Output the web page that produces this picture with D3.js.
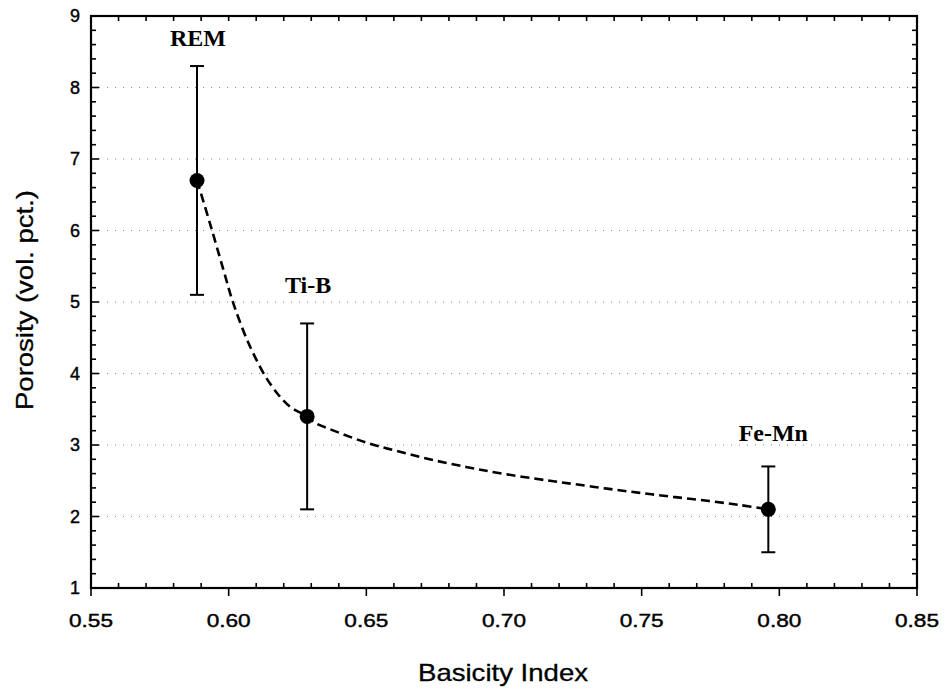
<!DOCTYPE html>
<meta charset="utf-8">
<style>
  body { margin: 0; background: #fff; }
  .tick-label { font-family: "Liberation Sans", Arial, sans-serif; font-size: 18px; fill: #000; stroke: #000; stroke-width: 0.4px; }
  .axis-title { font-family: "Liberation Sans", Arial, sans-serif; font-size: 24px; fill: #000; stroke: #000; stroke-width: 0.3px; }
  .series-label { font-family: "Liberation Serif", "Times New Roman", serif; font-size: 24px; font-weight: bold; fill: #000; }
  .grid line { stroke: #888; stroke-width: 1; stroke-dasharray: 1,7; }
  .tk { stroke: #000; stroke-width: 1.6px; }
</style>
<title>Porosity vs Basicity Index</title>
<script src="https://d3js.org/d3.v7.min.js"></script>
<body>
<div id="chart"></div>
<script>
    // measured points with error bars
    var names = ["REM", "Ti-B", "Fe-Mn"];
    var basicity = [0.5885, 0.6285, 0.796];
    var porosity = [6.7, 3.4, 2.1];
    var errLow = [5.1, 2.1, 1.5];
    var errHigh = [8.3, 4.7, 2.7];

    // dashed fitted curve
    var curveX = [0.5885, 0.5932, 0.5981, 0.6017, 0.6078, 0.6150, 0.6223, 0.6285, 0.6314, 0.6379,
                  0.6503, 0.6622, 0.6742, 0.6866, 0.6986, 0.7156, 0.7251, 0.7374, 0.7494, 0.7614,
                  0.7738, 0.7857, 0.796];
    var curveY = [6.70, 6.10, 5.45, 4.98, 4.375, 3.86, 3.535, 3.40, 3.31, 3.205,
                  3.03, 2.905, 2.79, 2.69, 2.605, 2.505, 2.455, 2.39, 2.33, 2.275,
                  2.22, 2.16, 2.10];

    var xTicks = [0.55, 0.60, 0.65, 0.70, 0.75, 0.80, 0.85];
    var yTicks = [1, 2, 3, 4, 5, 6, 7, 8, 9];

    var canvasWidth = 946, canvasHeight = 693;
    var margin = {top: 16, right: 29, bottom: 105, left: 91};
    var width = canvasWidth - margin.left - margin.right,
        height = canvasHeight - margin.top - margin.bottom;

    var svg = d3.select("#chart").append("svg")
        .attr("width", canvasWidth)
        .attr("height", canvasHeight);
    var g = svg.append("g").attr("transform", "translate(" + margin.left + "," + margin.top + ")");

    var x = d3.scaleLinear().domain([0.55, 0.85]).range([0, width]);
    var y = d3.scaleLinear().domain([1, 9]).range([height, 0]);

    // horizontal dotted grid
    g.append("g").attr("class", "grid")
        .selectAll("line")
        .data(yTicks.slice(1, -1))
        .enter().append("line")
        .attr("x1", 0).attr("x2", width)
        .attr("y1", d => y(d)).attr("y2", d => y(d));

    var minorX = d3.range(56, 85).map(d => d / 100).filter(d => Math.round(d * 100) % 5 != 0);
    var minorY = d3.range(6, 45).map(d => d / 5).filter(d => Math.round(d * 5) % 5 != 0);

    var ticks = g.append("g");
    // bottom: majors point out, minors point in
    ticks.selectAll(".bx").data(xTicks).enter().append("line").attr("class", "tk")
        .attr("x1", d => x(d)).attr("x2", d => x(d)).attr("y1", height).attr("y2", height + 8);
    ticks.selectAll(".bm").data(minorX).enter().append("line").attr("class", "tk")
        .attr("x1", d => x(d)).attr("x2", d => x(d)).attr("y1", height).attr("y2", height - 5);
    // top mirror
    ticks.selectAll(".tx").data(minorX.concat(xTicks)).enter().append("line").attr("class", "tk")
        .attr("x1", d => x(d)).attr("x2", d => x(d)).attr("y1", 0).attr("y2", 5);
    // left: ticks inward
    ticks.selectAll(".ly").data(yTicks).enter().append("line").attr("class", "tk")
        .attr("x1", 0).attr("x2", 8).attr("y1", d => y(d)).attr("y2", d => y(d));
    ticks.selectAll(".lm").data(minorY).enter().append("line").attr("class", "tk")
        .attr("x1", 0).attr("x2", 5).attr("y1", d => y(d)).attr("y2", d => y(d));
    // right mirror
    ticks.selectAll(".ry").data(minorY.concat(yTicks)).enter().append("line").attr("class", "tk")
        .attr("x1", width).attr("x2", width - 5).attr("y1", d => y(d)).attr("y2", d => y(d));

    // frame
    g.append("rect")
        .attr("width", width).attr("height", height)
        .attr("fill", "none").attr("stroke", "#000").attr("stroke-width", 2.2);

    // tick labels
    g.selectAll(".xlab").data(xTicks).enter().append("text")
        .attr("class", "tick-label")
        .attr("x", d => x(d)).attr("y", height + 39)
        .attr("text-anchor", "middle")
        .attr("textLength", 44).attr("lengthAdjust", "spacingAndGlyphs")
        .text(d => d.toFixed(2));
    g.selectAll(".ylab").data(yTicks).enter().append("text")
        .attr("class", "tick-label")
        .attr("x", -11).attr("y", d => y(d)).attr("dy", "0.36em")
        .attr("text-anchor", "end")
        .text(d => d);

    // axis titles
    svg.append("text").attr("class", "axis-title")
        .attr("x", 503).attr("y", 681)
        .attr("text-anchor", "middle")
        .attr("textLength", 170).attr("lengthAdjust", "spacingAndGlyphs")
        .text("Basicity Index");
    svg.append("text").attr("class", "axis-title")
        .attr("transform", "translate(33,300) rotate(-90)")
        .attr("text-anchor", "middle")
        .attr("textLength", 220).attr("lengthAdjust", "spacingAndGlyphs")
        .text("Porosity (vol. pct.)");

    // dashed curve
    var line = d3.line()
        .curve(d3.curveCatmullRom.alpha(0.5))
        .x(d => x(d[0]))
        .y(d => y(d[1]));
    g.append("path")
        .datum(d3.zip(curveX, curveY))
        .attr("d", line)
        .attr("fill", "none")
        .attr("stroke", "#000")
        .attr("stroke-width", 2.6)
        .attr("stroke-dasharray", "9,5");

    var pts = names.map((n, i) => ({name: n, x: basicity[i], y: porosity[i], lo: errLow[i], hi: errHigh[i]}));

    // error bars
    var eb = g.selectAll(".err").data(pts).enter().append("g").attr("class", "err")
        .attr("stroke", "#000").attr("stroke-width", 2);
    eb.append("line").attr("x1", d => x(d.x)).attr("x2", d => x(d.x))
        .attr("y1", d => y(d.lo)).attr("y2", d => y(d.hi));
    eb.append("line").attr("x1", d => x(d.x) - 7).attr("x2", d => x(d.x) + 7)
        .attr("y1", d => y(d.lo)).attr("y2", d => y(d.lo));
    eb.append("line").attr("x1", d => x(d.x) - 7).attr("x2", d => x(d.x) + 7)
        .attr("y1", d => y(d.hi)).attr("y2", d => y(d.hi));

    g.selectAll(".dot").data(pts).enter().append("circle")
        .attr("cx", d => x(d.x)).attr("cy", d => y(d.y))
        .attr("r", 7.5).attr("fill", "#000");

    // point labels above error bars
    var labelGap = {"REM": 20, "Ti-B": 30, "Fe-Mn": 25};
    g.selectAll(".series-label").data(pts).enter().append("text")
        .attr("class", "series-label")
        .attr("x", d => x(d.x) + (d.name == "Fe-Mn" ? 5 : 1))
        .attr("y", d => y(d.hi) - labelGap[d.name])
        .attr("text-anchor", "middle")
        .text(d => d.name);
</script>
</body>
